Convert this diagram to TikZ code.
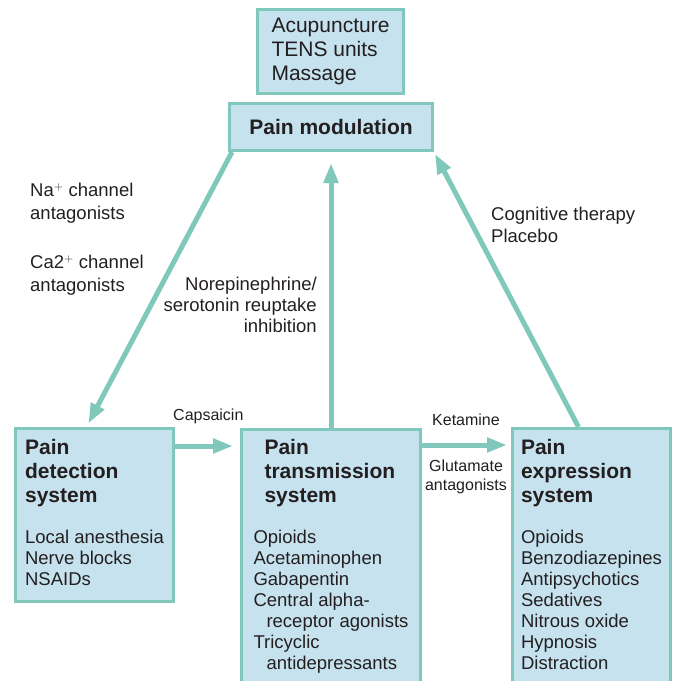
\documentclass[tikz,border=0pt]{standalone}
\usepackage{fontspec}
\setmainfont{Liberation Sans}
\usepackage{tikz}
\usetikzlibrary{positioning}
\usetikzlibrary{arrows.meta}
\definecolor{boxblue}{HTML}{C6E2EE}
\definecolor{linegreen}{HTML}{80C8BC}
\definecolor{txtgray}{HTML}{231F20}
\tikzset{>={Triangle[length=20pt,width=14pt]}}
\newcommand{\ttl}[1]{{\fontsize{21}{24}\selectfont\bfseries #1}}

\begin{document}
\begin{tikzpicture}[x=1pt,y=-1pt,font=\fontsize{18.5}{21}\selectfont,text=txtgray]
      \tikzstyle{pbox} = [draw=linegreen, line width=3pt, fill=boxblue, inner sep=0pt, align=left]
      \tikzstyle{lbl} = [inner sep=0pt, font=\fontsize{18.5}{23}\selectfont]
      \tikzstyle{slbl} = [inner sep=0pt, font=\fontsize{16}{18.5}\selectfont]
      \tikzstyle{arr} = [->, draw=linegreen, line width=5pt]
      \useasboundingbox (0,0) rectangle (676,681);
      \clip (0,0) rectangle (676,681);

      \node[pbox, anchor=north west, minimum width=146pt, minimum height=84pt, font=\fontsize{21}{24}\selectfont] (tech) at (256,8) {Acupuncture\\TENS units\\Massage};
      \node[pbox, anchor=north west, minimum width=203pt, minimum height=47pt, font=\fontsize{21}{24}\selectfont\bfseries] (mod) at (228,102) {Pain modulation};

      \node[pbox, anchor=north west, minimum width=158pt, inner ysep=11pt, text depth=5pt] (det) at (14,427)
        {\ttl{Pain}\\[3pt]\ttl{detection}\\[3pt]\ttl{system}\\[20pt]Local anesthesia\\Nerve blocks\\NSAIDs};
      \node[pbox, anchor=north west, minimum width=179pt, inner ysep=10pt, text depth=40pt] (trans) at (240,428)
        {\hspace*{11pt}\ttl{Pain}\\[3pt]\hspace*{11pt}\ttl{transmission}\\[3pt]\hspace*{11pt}\ttl{system}\\[20pt]Opioids\\Acetaminophen\\Gabapentin\\Central alpha-\\\hspace*{13pt}receptor agonists\\Tricyclic\\\hspace*{13pt}antidepressants};
      \node[pbox, anchor=north west, minimum width=158pt, inner ysep=11pt, text depth=40pt] (exp) at (511,427)
        {\ttl{Pain}\\[3pt]\ttl{expression}\\[3pt]\ttl{system}\\[20pt]Opioids\\Benzodiazepines\\Antipsychotics\\Sedatives\\Nitrous oxide\\Hypnosis\\Distraction};

      \draw[arr, shorten >=4pt] ([xshift=4pt]mod.south west) -- ([xshift=-8pt]det.north);
      \draw[arr, shorten >=11pt] (trans.north) -- (trans.north |- mod.south);
      \draw[arr, shorten >=2pt] ([xshift=-13pt]exp.north) -- (mod.south east);
      \draw[arr, shorten >=7pt] ([yshift=-19pt]det.north east) -- ([yshift=-18pt]trans.north west);
      \draw[arr, shorten >=4pt] ([yshift=-17pt]trans.north east) -- ([yshift=-18pt]exp.north west);

      \node[lbl, anchor=north west, align=left] (na) at (30,183) {Na$^{+}$ channel\\antagonists};
      \node[lbl, anchor=north west, align=left] (ca) at (30,255) {Ca2$^{+}$ channel\\antagonists};
      \node[lbl, anchor=north east, align=right, font=\fontsize{18.5}{21}\selectfont] (nore) at (317,277) {Norepinephrine/\\serotonin reuptake\\inhibition};
      \node[lbl, anchor=north west, align=left, font=\fontsize{18.5}{22}\selectfont] (cog) at (491,207) {Cognitive therapy\\Placebo};
      \node[slbl, anchor=base west] (caps) at (173,420) {Capsaicin};
      \node[slbl, anchor=base] (ket) at (466,425) {Ketamine};
      \node[slbl, anchor=north, align=center] (glu) at (466,460) {Glutamate\\antagonists};

    \end{tikzpicture}
\end{document}
